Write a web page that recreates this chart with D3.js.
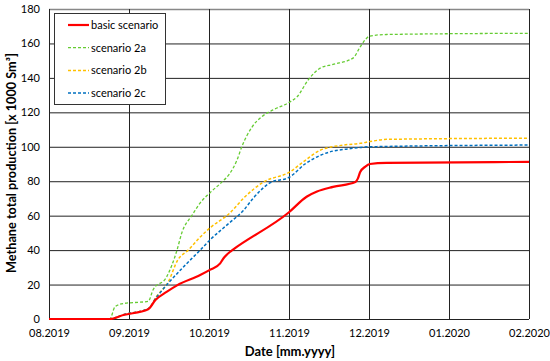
<!DOCTYPE html>
<html><head><meta charset="utf-8">
<script src="https://cdn.jsdelivr.net/npm/d3@7"></script>
<style>body{margin:0;background:#fff}svg{display:block}text{font-family:Lato,"Open Sans",sans-serif}</style>
</head><body><svg id="c" width="550" height="361"></svg>
<script>
// x in months since 08.2019
const monthLabels = ["08.2019","09.2019","10.2019","11.2019","12.2019","01.2020","02.2020"];
const yTicks = [0,20,40,60,80,100,120,140,160,180];
const seriesNames = ["basic scenario","scenario 2a","scenario 2b","scenario 2c"];
const basic = [[0,0],[0.76,0],[0.93,2.3],[1.24,5.7],[1.33,11],[1.47,15.7],[1.6,19.5],[1.89,25.5],[2.01,28.5],[2.14,32.3],[2.17,34.5],[2.2,36.3],[2.26,38.9],[2.3,40.3],[3.0,62],[3.22,71],[3.35,74],[3.55,76.7],[3.83,79.5],[3.86,81.5],[3.89,85.4],[3.95,88.3],[4.01,90],[4.22,90.6],[6,91.2]];
const s2a = [[0,0],[0.76,0],[0.825,7.1],[0.93,9.0],[1.05,9.5],[1.24,10.2],[1.3,16.8],[1.47,24.4],[1.6,40],[1.66,50],[1.79,60.4],[1.89,67.4],[2.01,73.2],[2.16,79.5],[2.26,84.5],[2.35,92.3],[2.41,100],[2.54,111.6],[2.66,117.5],[2.8,121.4],[3.01,126],[3.1,129],[3.24,138.8],[3.39,145.7],[3.55,147.8],[3.8,151.5],[3.89,158],[3.95,162],[4.01,164.3],[4.22,165.2],[6,165.9]];
const s2b = [[0,0],[0.76,0],[0.93,2.5],[1.24,6.0],[1.35,13.5],[1.49,21.5],[1.61,34.3],[1.74,40],[1.89,47.6],[2.01,52.8],[2.26,61.5],[2.45,71],[2.68,79.5],[3.01,85.4],[3.2,92],[3.39,98],[3.68,101],[3.89,102],[4.01,103],[4.22,104.3],[6,105]];
const s2c = [[0,0],[0.76,0],[0.93,2.5],[1.24,6.0],[1.35,13],[1.47,19.7],[1.68,30.2],[1.89,40],[2.01,45.8],[2.26,56],[2.43,63],[2.55,70],[2.76,79],[3.01,82.5],[3.2,90],[3.39,95],[3.55,97.5],[3.73,98.7],[4.01,100],[6,101]];

const svg = d3.select("#c");
const L=49,R=529,T=9,B=319;
const x = d3.scaleLinear().domain([0,6]).range([L,R]);
const y = d3.scaleLinear().domain([0,180]).range([B,T]);

// grid
const g = svg.append("g");
g.selectAll(".hg").data(yTicks).join("line").attr("x1",L).attr("x2",R)
 .attr("y1",d=>y(d)+0.5).attr("y2",d=>y(d)+0.5).attr("stroke",d=>d===180?"#888":"#222").attr("stroke-width",d=>d===180?1.5:1);
g.selectAll(".vg").data(d3.range(0,7)).join("line").attr("y1",T).attr("y2",B)
 .attr("x1",d=>x(d)+0.5).attr("x2",d=>x(d)+0.5).attr("stroke","#222").attr("stroke-width",1);

// axes labels
const yAx = svg.append("g").attr("transform",`translate(${L},0)`)
 .call(d3.axisLeft(y).tickValues(yTicks).tickSize(0).tickPadding(9));
yAx.select(".domain").remove();
yAx.selectAll("text").attr("font-size",11).attr("fill","#000").style("font-family","Lato,'Open Sans',sans-serif");
const xAx = svg.append("g").attr("transform",`translate(0,${B})`)
 .call(d3.axisBottom(x).tickValues(d3.range(0,7)).tickFormat(i=>monthLabels[i]).tickSize(0).tickPadding(10));
xAx.select(".domain").remove();
xAx.selectAll("text").attr("font-size",11).attr("fill","#000").style("font-family","Lato,'Open Sans',sans-serif");

svg.append("text").attr("x",290).attr("y",356).attr("text-anchor","middle")
 .attr("font-size",13).attr("font-weight","bold").text("Date [mm.yyyy]");
svg.append("text").attr("transform","translate(16,163) rotate(-90)").attr("text-anchor","middle")
 .attr("font-size",12.7).attr("font-weight","bold").text("Methane total production [x 1000 Sm³]");

const line = d3.line().x(d=>x(d[0])).y(d=>y(d[1])).curve(d3.curveMonotoneX);
const styles = [
 {data:basic,color:"#ff0000",w:2.2,dash:null},
 {data:s2a,color:"#66cc33",w:1.3,dash:"3,2"},
 {data:s2b,color:"#ffc000",w:1.5,dash:"3,2"},
 {data:s2c,color:"#0070c0",w:1.5,dash:"3,2"}];
[1,2,3,0].forEach(i=>{
 const s=styles[i];
 svg.append("path").datum(s.data).attr("d",line).attr("fill","none")
  .attr("stroke",s.color).attr("stroke-width",s.w).attr("stroke-dasharray",s.dash);
});

// legend
const lg = svg.append("g");
lg.append("rect").attr("x",54.5).attr("y",13.5).attr("width",111).attr("height",91)
 .attr("fill","#fff").attr("stroke","#333").attr("stroke-width",1);
seriesNames.forEach((n,i)=>{
 const yy = 25+i*22.7;
 const s=styles[i];
 lg.append("line").attr("x1",68).attr("x2",89).attr("y1",yy).attr("y2",yy)
  .attr("stroke",s.color).attr("stroke-width",s.w).attr("stroke-dasharray",s.dash);
 lg.append("text").attr("x",91).attr("y",yy+4).attr("font-size",11).text(n);
});
</script></body></html>
